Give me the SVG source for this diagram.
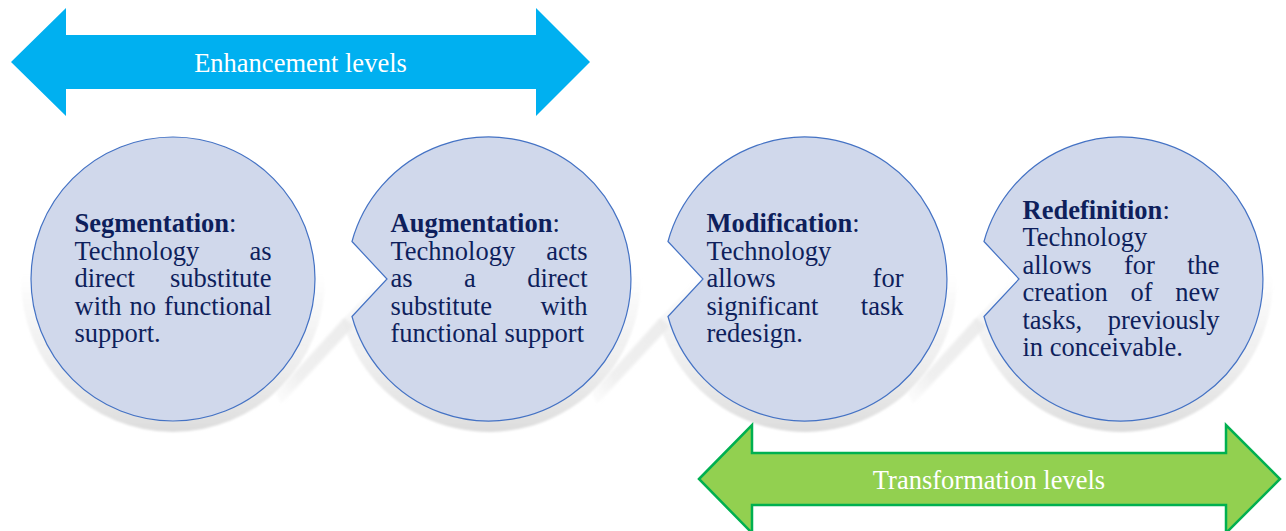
<svg xmlns="http://www.w3.org/2000/svg" width="1286" height="531" viewBox="0 0 1286 531">
  <defs>
    <style>
      .disc { fill: #D0D8EB; stroke: #4472C4; stroke-width: 1.2; }
      .shadow { fill: url(#shadeFade); filter: url(#soft); }
      .band { fill: url(#bandFade); filter: url(#soft2); }
      .txt { font-family: "Liberation Serif", "Times New Roman", serif; font-size: 26.5px; fill: #0E1F5C; }
      .hd { font-weight: bold; }
      .lvl { font-family: "Liberation Serif", "Times New Roman", serif; font-size: 26.5px; fill: #FFFFFF; text-anchor: middle; }
      .end { text-anchor: end; }
    </style>
    <!-- soft grey drop shadow, fading out toward the top -->
    <linearGradient id="shadeFade" x1="0" y1="0" x2="0" y2="1">
      <stop offset="0" stop-color="#e6e6e6" stop-opacity="0"/>
      <stop offset="0.48" stop-color="#e6e6e6" stop-opacity="0"/>
      <stop offset="0.75" stop-color="#e8e8e8" stop-opacity="0.7"/>
      <stop offset="1" stop-color="#dddddd" stop-opacity="1"/>
    </linearGradient>
    <linearGradient id="bandFade" x1="1" y1="0" x2="0" y2="1">
      <stop offset="0" stop-color="#eaeaea" stop-opacity="0.9"/>
      <stop offset="0.7" stop-color="#ececec" stop-opacity="0.8"/>
      <stop offset="1" stop-color="#f2f2f2" stop-opacity="0.2"/>
    </linearGradient>
    <filter id="soft" x="-10%" y="-10%" width="120%" height="120%">
      <feGaussianBlur stdDeviation="1.2"/>
    </filter>
    <filter id="soft2" x="-20%" y="-20%" width="140%" height="140%">
      <feGaussianBlur stdDeviation="1.8"/>
    </filter>
    <!-- circle with a wedge cut out of its left side, centred on 0,0 -->
    <path id="notched" d="M -137 -37.5 L -102 0 L -137 37.5 A 142 142 0 1 0 -137 -37.5 Z"/>
    <circle id="plain" cx="0" cy="0" r="142"/>
  </defs>

  <rect width="1286" height="531" fill="#FFFFFF"/>

  <!-- shadows behind the discs -->
  <g id="shadows">
    <use href="#plain" class="shadow" transform="translate(173 280) scale(1.07)"/>
    <use href="#notched" class="shadow" transform="translate(489 280) scale(1.07)"/>
    <use href="#notched" class="shadow" transform="translate(805 280) scale(1.07)"/>
    <use href="#notched" class="shadow" transform="translate(1121 280) scale(1.07)"/>
    <polygon class="band" points="344,318 276,393 281,404 354,326"/>
    <polygon class="band" points="660,318 592,393 597,404 670,326"/>
    <polygon class="band" points="976,318 908,393 913,404 986,326"/>
  </g>

  <g id="node-segmentation">
    <use href="#plain" class="disc" transform="translate(173 279)"/>
    <text class="txt" x="74.5" y="232"><tspan class="hd">Segmentation</tspan>:</text>
    <text class="txt" x="74.5" y="259.5">Technology</text>
    <text class="txt end" x="271.5" y="259.5">as</text>
    <text class="txt" x="74.5" y="287">direct</text>
    <text class="txt end" x="271.5" y="287">substitute</text>
    <text class="txt" x="74.5" y="314.5">with</text>
    <text class="txt" x="129.5" y="314.5">no</text>
    <text class="txt end" x="271.5" y="314.5">functional</text>
    <text class="txt" x="74.5" y="342">support.</text>
  </g>

  <g id="node-augmentation">
    <use href="#notched" class="disc" transform="translate(489 279)"/>
    <text class="txt" x="390.5" y="232"><tspan class="hd">Augmentation</tspan>:</text>
    <text class="txt" x="390.5" y="259.5">Technology</text>
    <text class="txt end" x="587.5" y="259.5">acts</text>
    <text class="txt" x="390.5" y="287">as</text>
    <text class="txt" x="464" y="287">a</text>
    <text class="txt end" x="587.5" y="287">direct</text>
    <text class="txt" x="390.5" y="314.5">substitute</text>
    <text class="txt end" x="587.5" y="314.5">with</text>
    <text class="txt" x="390.5" y="342">functional support</text>
  </g>

  <g id="node-modification">
    <use href="#notched" class="disc" transform="translate(805 279)"/>
    <text class="txt" x="706.5" y="232"><tspan class="hd">Modification</tspan>:</text>
    <text class="txt" x="706.5" y="259.5">Technology</text>
    <text class="txt" x="706.5" y="287">allows</text>
    <text class="txt end" x="903.5" y="287">for</text>
    <text class="txt" x="706.5" y="314.5">significant</text>
    <text class="txt end" x="903.5" y="314.5">task</text>
    <text class="txt" x="706.5" y="342">redesign.</text>
  </g>

  <g id="node-redefinition">
    <use href="#notched" class="disc" transform="translate(1121 279)"/>
    <text class="txt" x="1022.5" y="218.5"><tspan class="hd">Redefinition</tspan>:</text>
    <text class="txt" x="1022.5" y="246">Technology</text>
    <text class="txt" x="1022.5" y="273.5">allows</text>
    <text class="txt" x="1124" y="273.5">for</text>
    <text class="txt end" x="1219.5" y="273.5">the</text>
    <text class="txt" x="1022.5" y="301">creation</text>
    <text class="txt" x="1130.5" y="301">of</text>
    <text class="txt end" x="1219.5" y="301">new</text>
    <text class="txt" x="1022.5" y="328.5">tasks,</text>
    <text class="txt end" x="1219.5" y="328.5">previously</text>
    <text class="txt" x="1022.5" y="356">in conceivable.</text>
  </g>

  <!-- double-headed range arrows -->
  <g id="levels">
    <g id="enhancement-levels">
      <polygon fill="#00B0F0" points="11,62 66,8 66,35 536,35 536,8 590,62 536,116 536,89 66,89 66,116"/>
      <text class="lvl" x="300.5" y="71.5">Enhancement levels</text>
    </g>
    <g id="transformation-levels">
      <polygon fill="#92D050" stroke="#00B050" stroke-width="2.5" stroke-linejoin="miter" points="699,479 752,425 752,453 1226,453 1226,425 1280,479 1226,533 1226,505 752,505 752,533"/>
      <text class="lvl" x="989" y="489">Transformation levels</text>
    </g>
  </g>
</svg>
